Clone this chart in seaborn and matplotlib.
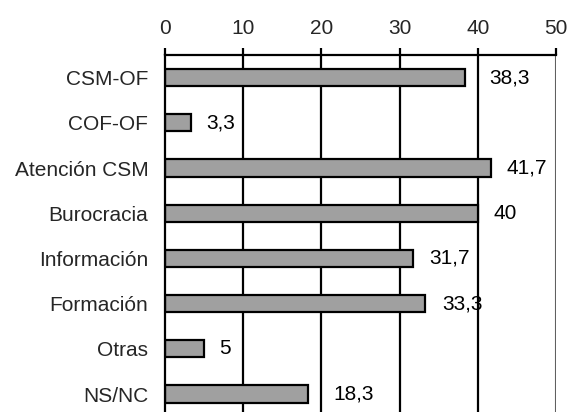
import matplotlib
matplotlib.use("Agg")
import matplotlib.pyplot as plt
import pandas as pd
import seaborn as sns

categories = ["CSM-OF", "COF-OF", "Atención CSM", "Burocracia",
              "Información", "Formación", "Otras", "NS/NC"]
values = [38.3, 3.3, 41.7, 40, 31.7, 33.3, 5, 18.3]
value_labels = ["38,3", "3,3", "41,7", "40", "31,7", "33,3", "5", "18,3"]
x_ticks = [0, 10, 20, 30, 40, 50]

sns.set_theme(style="white")
plt.rcParams["font.family"] = ["Liberation Sans", "DejaVu Sans"]

df = pd.DataFrame({"cat": categories, "val": values})

fig = plt.figure(figsize=(5.7, 4.12), dpi=100)
ax = fig.add_axes([0.2895, -0.0112, 0.686, 0.8777])

for x in x_ticks[1:-1]:
    ax.axvline(x, color="black", lw=1.6, zorder=0)
ax.axvline(50, color="#606060", lw=1.5, zorder=0)

sns.barplot(data=df, x="val", y="cat", orient="h", color="#a0a0a0",
            edgecolor="black", linewidth=1.6, width=0.38, saturation=1,
            ax=ax, zorder=2)

# label offsets in points (some labels sit further right, clear of gridlines)
pads = [18, 11, 11, 11, 12, 12, 11, 18]
for i, (v, lab) in enumerate(zip(values, value_labels)):
    ax.annotate(lab, (v, i), xytext=(pads[i], 0), textcoords="offset points",
                ha="left", va="center", fontsize=15, color="black")

ax.set_xlim(0, 50)
ax.set_ylim(7.5, -0.5)
ax.set_xticks(x_ticks)
ax.xaxis.tick_top()
ax.tick_params(axis="x", direction="out", length=5, width=1.6, color="black",
               labelsize=15, pad=7, top=True, bottom=False)
ax.tick_params(axis="y", length=0, labelsize=15, pad=12)
ax.set_xlabel("")
ax.set_ylabel("")
for side in ["bottom", "right"]:
    ax.spines[side].set_visible(False)
for side in ["top", "left"]:
    ax.spines[side].set_color("black")
    ax.spines[side].set_linewidth(1.6)

fig.savefig("out.png", dpi=100)
